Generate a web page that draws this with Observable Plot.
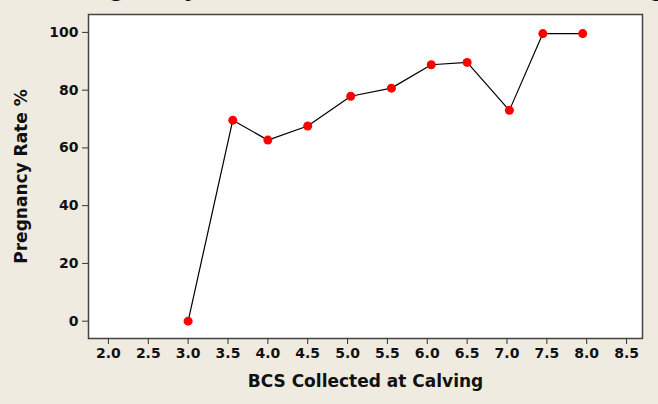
<!DOCTYPE html>
<html>
<head>
<meta charset="utf-8">
<script src="https://cdn.jsdelivr.net/npm/d3@7"></script>
<script src="https://cdn.jsdelivr.net/npm/@observablehq/plot@0.6"></script>
<style>
  html, body { margin: 0; padding: 0; background: #EFEBE1; overflow: hidden; }
  #wrap { position: relative; width: 658px; height: 404px; }
  #title { position: absolute; left: 67px; top: -23px; white-space: nowrap; line-height: 26px;
           font: bold 22px "DejaVu Sans", Verdana, sans-serif; color: #111; }
  #chart { position: absolute; left: 0; top: 0; }
</style>
</head>
<body>
<div id="wrap">
  <div id="title">Pregnancy Rate versus BCS Collected at Calving</div>
  <div id="chart"></div>
</div>
<script>
const bcs = [3.0, 3.56, 4.0, 4.5, 5.04, 5.55, 6.05, 6.5, 7.03, 7.45, 7.95];
const rate = [0, 69.6, 62.7, 67.6, 77.9, 80.7, 88.8, 89.6, 73, 99.6, 99.6];
const xTicks = [2.0, 2.5, 3.0, 3.5, 4.0, 4.5, 5.0, 5.5, 6.0, 6.5, 7.0, 7.5, 8.0, 8.5];
const yTicks = [0, 20, 40, 60, 80, 100];

const data = bcs.map((b, i) => ({bcs: b, rate: rate[i]}));

const chart = Plot.plot({
  width: 658,
  height: 404,
  marginLeft: 88,
  marginRight: 16,
  marginTop: 14,
  marginBottom: 66,
  style: {background: "transparent", fontFamily: "'DejaVu Sans', Verdana, sans-serif", fontWeight: "bold", fontSize: "14px", color: "#111"},
  x: {domain: [1.75, 8.7]},
  y: {domain: [-6, 106.2]},
  marks: [
    Plot.frame({fill: "white", stroke: "none"}),
    Plot.axisX({ticks: xTicks, tickFormat: d3.format(".1f"), tickSize: 6, tickPadding: 4,
      label: "BCS Collected at Calving", labelAnchor: "center", labelArrow: "none", labelOffset: 48,
      fontSize: 14, stroke: "#333"}),
    Plot.axisY({ticks: yTicks, tickSize: 6, tickPadding: 4,
      label: "Pregnancy Rate %", labelAnchor: "center", labelArrow: "none", labelOffset: 74,
      fontSize: 14, stroke: "#333"}),
    Plot.line(data, {x: "bcs", y: "rate", stroke: "black", strokeWidth: 1.2}),
    Plot.dot(data, {x: "bcs", y: "rate", r: 4.5, fill: "#ff0000", stroke: "none"}),
    Plot.frame({stroke: "#444", strokeWidth: 1.5})
  ]
});
chart.querySelectorAll("g[aria-label='x-axis label'] text, g[aria-label='y-axis label'] text").forEach(t => t.setAttribute("font-size", "17px"));
document.getElementById("chart").appendChild(chart);
</script>
</body>
</html>
